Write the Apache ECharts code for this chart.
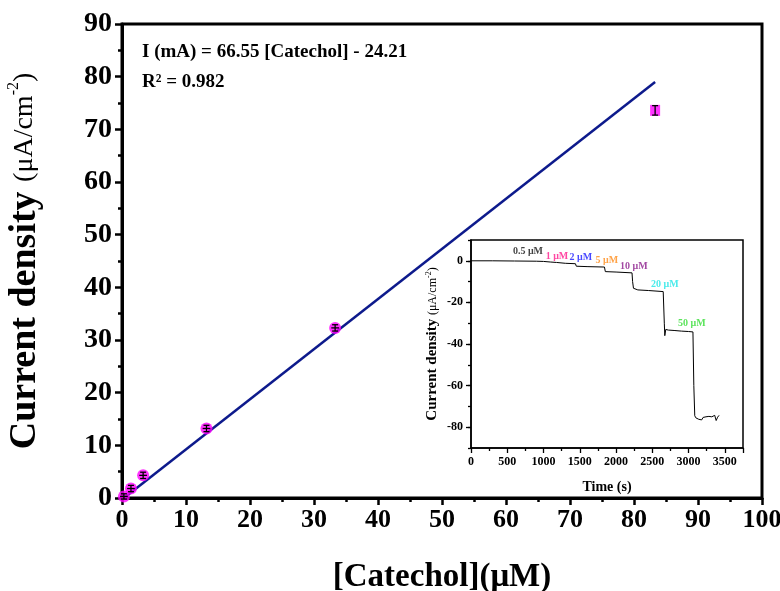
<!DOCTYPE html>
<html>
<head>
<meta charset="utf-8">
<script src="https://cdn.jsdelivr.net/npm/echarts@6/dist/echarts.min.js"></script>
<style>
  html, body { margin: 0; padding: 0; background: #fff; }
  #chart { width: 780px; height: 591px; }
</style>
</head>
<body>
<div id="chart"></div>
<script>
// calibration points (main plot)
const conc = [0.3, 1.4, 3.3, 13.2, 33.3, 83.3]
const density = [0.3, 1.8, 4.3, 13.2, 32.3, 73.6]
const yErr = [0.5, 0.6, 0.6, 0.6, 0.6, 0.9]
const xErr = [0.6, 0.6, 0.6, 0.6, 0.6, 0]
// linear fit, drawn between its end points
const fitX = [0.3, 83.3]
const fitY = [0, 79]

// inset: amperometric response
const timeS = [0, 300, 600, 900, 1000, 1010, 1100, 1180, 1190, 1300, 1440, 1452, 1600, 1840, 1852, 2000, 2220, 2228, 2240, 2300, 2450, 2650, 2665, 2672, 2685, 2720, 2800, 2900, 3000, 3060, 3072, 3085, 3100, 3120, 3140, 3160, 3180, 3200, 3220, 3240, 3260, 3280, 3300, 3320, 3340, 3360, 3380, 3400, 3420]
const currentS = [0, 0, -0.1, -0.2, -0.3, -0.6, -0.6, -0.8, -1.2, -1.2, -1.4, -2.6, -2.8, -3.0, -5.2, -5.4, -5.8, -10, -13.2, -14.0, -14.3, -14.8, -30, -36, -33, -33.3, -33.5, -33.8, -34.0, -34.2, -60, -74.5, -75.5, -75.0, -76.2, -75.4, -76.5, -75.3, -75.8, -75.0, -75.6, -74.8, -75.3, -75.0, -74.6, -74.3, -76.8, -75.2, -74.3]

// inset step labels
const stepNames = ['0.5 μM', '1 μM', '2 μM', '5 μM', '10 μM', '20 μM', '50 μM']
const stepT = [785, 1185, 1515, 1873, 2245, 2672, 3044]
const stepV = [4.3, 1.9, 1.4, 0, -2.9, -11.5, -30.2]
const stepColors = ['#111111', '#ff1a8c', '#1a1aff', '#ff8c1a', '#8b1a8b', '#1ee6e6', '#33dd33']
const insetYTicks = [-80, -60, -40, -20, 0]

const serif = '"Liberation Serif", "DejaVu Serif", serif'

let mychart = echarts.init(document.getElementById('chart'))

mychart.setOption({
  animation: false,
  grid: [
    { left: 122, right: 18, top: 24, bottom: 93, outerBoundsMode: 'none', containLabel: false,
      show: true, borderColor: '#000', borderWidth: 3 },
    { left: 471, right: 37, top: 240, bottom: 143, outerBoundsMode: 'none', containLabel: false,
      show: true, borderColor: '#000', borderWidth: 1.5 }
  ],
  xAxis: [
    {
      type: 'value', gridIndex: 0, min: 0, max: 100, interval: 10,
      splitLine: { show: false },
      axisLine: { onZero: false, lineStyle: { color: '#000', width: 3 } },
      axisTick: { inside: false, length: 7, lineStyle: { width: 2.5 } },
      minorTick: { show: true, splitNumber: 2, length: 4, lineStyle: { color: '#000', width: 2.5 } },
      axisLabel: { color: '#000', fontFamily: serif, fontWeight: 'bold', fontSize: 26, margin: 9 },
      name: '[Catechol](μM)', nameLocation: 'middle', nameGap: 63,
      nameTextStyle: { color: '#000', fontFamily: serif, fontWeight: 'bold', fontSize: 33 }
    },
    {
      type: 'value', gridIndex: 1, min: 0, max: 3750, interval: 500,
      splitLine: { show: false },
      axisLine: { onZero: false, lineStyle: { color: '#000', width: 1.5 } },
      axisTick: { length: 5, lineStyle: { color: '#000', width: 1.3 } },
      minorTick: { show: true, splitNumber: 2, length: 3, lineStyle: { color: '#000', width: 1.3 } },
      axisLabel: { color: '#000', fontFamily: serif, fontWeight: 'bold', fontSize: 12, margin: 8,
        formatter: v => (v % 500 === 0 ? v : '') },
      name: 'Time (s)', nameLocation: 'middle', nameGap: 32,
      nameTextStyle: { color: '#000', fontFamily: serif, fontWeight: 'bold', fontSize: 14 }
    }
  ],
  yAxis: [
    {
      type: 'value', gridIndex: 0, min: 0, max: 90, interval: 10,
      splitLine: { show: false },
      axisLine: { onZero: false, lineStyle: { color: '#000', width: 3 } },
      axisTick: { length: 7, lineStyle: { width: 2.5 } },
      minorTick: { show: true, splitNumber: 2, length: 4, lineStyle: { color: '#000', width: 2.5 } },
      axisLabel: { color: '#000', fontFamily: serif, fontWeight: 'bold', fontSize: 28, margin: 10 },
      name: '{a|Current density }{b|(μA/cm}{c|-2}{b|)}', nameLocation: 'middle', nameGap: 78,
      nameTextStyle: {
        color: '#000', fontFamily: serif,
        rich: {
          a: { fontFamily: serif, fontWeight: 'bold', fontSize: 38, color: '#000' },
          b: { fontFamily: serif, fontSize: 28, color: '#000' },
          c: { fontFamily: serif, fontSize: 16, color: '#000', verticalAlign: 'top', padding: [0, 0, 18, 0] }
        }
      }
    },
    {
      type: 'value', gridIndex: 1, min: -90, max: 10,
      splitLine: { show: false },
      axisLine: { onZero: false, lineStyle: { color: '#000', width: 1.5 } },
      axisTick: { length: 5, lineStyle: { color: '#000', width: 1.3 }, customValues: insetYTicks },
      axisLabel: { color: '#000', fontFamily: serif, fontWeight: 'bold', fontSize: 12, margin: 8,
        customValues: insetYTicks },
      name: '{a|Current density }{b|(μA/cm}{c|-2}{b|)}', nameLocation: 'middle', nameGap: 31,
      nameTextStyle: {
        color: '#000', fontFamily: serif,
        rich: {
          a: { fontFamily: serif, fontWeight: 'bold', fontSize: 15, color: '#000' },
          b: { fontFamily: serif, fontSize: 12, color: '#000' },
          c: { fontFamily: serif, fontSize: 8, color: '#000', verticalAlign: 'top', padding: [0, 0, 7, 0] }
        }
      }
    },
    {
      // short ticks every 10 on the inset y axis
      type: 'value', gridIndex: 1, position: 'left', offset: 0, min: -90, max: 10, interval: 10,
      splitLine: { show: false },
      axisLine: { show: false, onZero: false },
      axisTick: { show: true, length: 3, lineStyle: { color: '#000', width: 1.3 } },
      axisLabel: { show: false }
    }
  ],
  graphic: [
    {
      type: 'text', left: 142, top: 43,
      style: { text: 'I (mA) = 66.55 [Catechol] - 24.21', font: 'bold 19px ' + serif, fill: '#000' }
    },
    {
      type: 'text', left: 142, top: 73,
      style: { text: 'R² = 0.982', font: 'bold 19px ' + serif, fill: '#000' }
    }
  ],
  series: [
    {
      type: 'line', xAxisIndex: 0, yAxisIndex: 0,
      data: fitX.map((x, i) => [x, fitY[i]]),
      showSymbol: false, symbol: 'none',
      lineStyle: { color: '#0d1a8c', width: 2.5 },
      z: 2
    },
    {
      type: 'scatter', xAxisIndex: 0, yAxisIndex: 0,
      data: conc.map((x, i) => [x, density[i]]),
      symbol: (v, p) => (p.dataIndex === conc.length - 1 ? 'rect' : 'circle'),
      symbolSize: (v, p) => (p.dataIndex === conc.length - 1 ? [10, 11] : 12),
      itemStyle: { color: '#ff00ff' },
      z: 3
    },
    {
      // error bars
      type: 'custom', xAxisIndex: 0, yAxisIndex: 0,
      data: conc.map((x, i) => [x, density[i], xErr[i], yErr[i]]),
      renderItem: function (params, api) {
        let x = api.value(0), y = api.value(1), ex = api.value(2), ey = api.value(3)
        let top = api.coord([x, y + ey])
        let bot = api.coord([x, y - ey])
        let left = api.coord([x - ex, y])
        let right = api.coord([x + ex, y])
        let style = { stroke: '#000', lineWidth: 1.3 }
        let kids = [
          { type: 'line', shape: { x1: top[0], y1: top[1], x2: bot[0], y2: bot[1] }, style: style },
          { type: 'line', shape: { x1: top[0] - 3, y1: top[1], x2: top[0] + 3, y2: top[1] }, style: style },
          { type: 'line', shape: { x1: bot[0] - 3, y1: bot[1], x2: bot[0] + 3, y2: bot[1] }, style: style }
        ]
        if (ex > 0) {
          kids.push({ type: 'line', shape: { x1: left[0], y1: left[1], x2: right[0], y2: right[1] }, style: style })
        }
        return { type: 'group', children: kids }
      },
      z: 4
    },
    {
      type: 'line', xAxisIndex: 1, yAxisIndex: 1,
      data: timeS.map((t, i) => [t, currentS[i]]),
      showSymbol: false, symbol: 'none',
      lineStyle: { color: '#000', width: 1 },
      z: 10
    },
    {
      type: 'scatter', xAxisIndex: 1, yAxisIndex: 1,
      data: stepNames.map((n, i) => ({
        value: [stepT[i], stepV[i]],
        name: n,
        label: { color: stepColors[i] }
      })),
      symbolSize: 0,
      label: {
        show: true, position: 'inside', formatter: p => p.name,
        fontFamily: serif, fontWeight: 'bold', fontSize: 10
      },
      z: 11
    }
  ]
})
</script>
</body>
</html>
